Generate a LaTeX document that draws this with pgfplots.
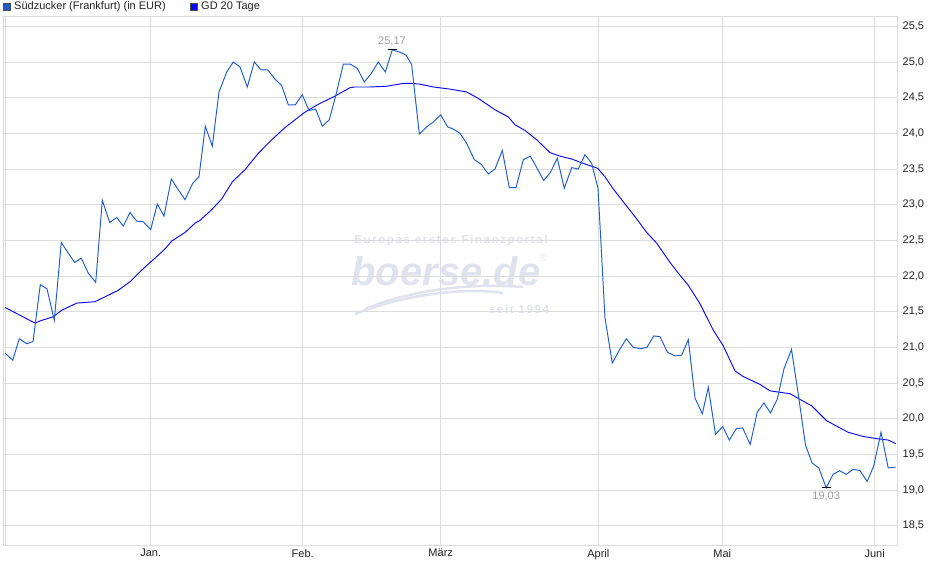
\documentclass[border=0pt]{standalone}
\usepackage{fontspec}
\setmainfont{Liberation Sans}
\newfontfamily\wmfont[LetterSpace=14]{Liberation Sans}
\usepackage{pgfplots}
\pgfplotsset{compat=1.18}
\definecolor{pricec}{HTML}{1E5CC8}
\definecolor{gdc}{HTML}{0A0AF0}
\definecolor{gridc}{HTML}{DCDCDC}
\definecolor{wm}{HTML}{E0E2EE}
\definecolor{txt}{HTML}{222222}
\definecolor{ann}{HTML}{A0A0A0}
\begin{document}
\begin{tikzpicture}[x=1pt,y=1pt]
\useasboundingbox (-3,-34) rectangle (937,545);
% watermark
\node[wm, font=\fontsize{11.5}{13}\selectfont\wmfont\bfseries] at (448,304) {Europas erstes Finanzportal};
\node[wm, font=\fontsize{40}{44}\selectfont\bfseries\itshape] at (443,274) {boerse.de};
\node[wm, font=\fontsize{10}{12}\selectfont] at (540,287) {®};
\node[wm, font=\fontsize{11.5}{13}\selectfont\wmfont\bfseries] at (516,236) {seit 1994};
\draw[wm, line width=2.5pt] (352,231) .. controls (400,250) and (460,258) .. (500,252);
\draw[wm, line width=2.5pt] (362,236) .. controls (410,256) and (470,262) .. (520,258);
% legend
\filldraw[fill=pricec, draw=black!70, line width=0.6pt] (0,534.5) rectangle (7.5,542);
\node[anchor=west, inner sep=0pt, txt, font=\fontsize{11}{13}\selectfont] at (11,538.3) {Südzucker (Frankfurt) (in EUR)};
\filldraw[fill=gdc, draw=black!70, line width=0.6pt] (187,534.5) rectangle (194.5,542);
\node[anchor=west, inner sep=0pt, txt, font=\fontsize{11}{13}\selectfont] at (198,538.3) {GD 20 Tage};
\begin{axis}[
  at={(0,0)}, anchor=south west,
  scale only axis, width=894pt, height=528pt,
  xmin=3, xmax=897, ymin=18.229, ymax=25.631,
  axis line style={draw=gridc, line width=1pt},
  grid=major, major grid style={draw=gridc, line width=1pt},
  xtick={5.7,150.7,302.7,440.7,598.3,722.3,874.7},
  xticklabels={,Jan.,Feb.,März,April,Mai,Juni},
  ytick={18.5,19,19.5,20,20.5,21,21.5,22,22.5,23,23.5,24,24.5,25,25.5},
  yticklabel pos=right,
  major tick length=0pt,
  tick style={draw=none},
  ticklabel style={font=\fontsize{11}{13}\selectfont, text=txt},
  /pgf/number format/assume math mode=true,
  y tick label style={/pgf/number format/.cd, use comma, fixed, fixed zerofill, precision=1, /tikz/.cd, anchor=west, inner sep=0pt, xshift=5.5pt},
  x tick label style={anchor=north, inner sep=0pt, yshift=-4pt},
  clip=false,
]
\addplot[gdc, line width=0.95pt] coordinates {
(5,21.56)(35,21.34)(40,21.37)(53.3,21.43)(61.7,21.52)(76.7,21.62)(95,21.64)(106.7,21.72)(118.3,21.80)(130,21.92)(140,22.06)(149.3,22.18)(155,22.25)(165,22.38)(171.7,22.49)(185,22.61)(195,22.74)(200,22.78)(211.7,22.93)(221.7,23.08)(232.3,23.32)(245,23.49)(258.3,23.72)(271.7,23.91)(285,24.08)(295,24.19)(304.3,24.29)(310,24.34)(320,24.42)(333.3,24.51)(350,24.64)(355,24.65)(370,24.65)(386.7,24.66)(403.3,24.70)(411.7,24.70)(420,24.69)(433.3,24.65)(450,24.62)(466.7,24.58)(478.3,24.49)(495,24.33)(508.3,24.23)(515,24.12)(525,24.04)(536.7,23.91)(550,23.73)(560,23.68)(571.7,23.64)(585,23.57)(597.7,23.51)(605,23.39)(613.3,23.22)(623.3,23.04)(636.7,22.80)(646.7,22.61)(656.7,22.46)(670,22.19)(680,22.01)(688.3,21.87)(700,21.61)(713.3,21.24)(723.3,21.02)(735,20.67)(743.3,20.59)(760,20.48)(770,20.39)(790,20.35)(800,20.27)(811.7,20.18)(826.7,19.97)(848,19.81)(863.3,19.75)(876.7,19.72)(888.3,19.70)(895.7,19.65)
};
\addplot[pricec, line width=0.95pt] coordinates {
(5,20.92)(12.7,20.82)(19.3,21.12)(26.7,21.05)(33,21.08)(40.3,21.88)(47,21.82)(54.3,21.38)(61.3,22.47)(68.3,22.32)(74.7,22.19)(81.3,22.25)(88.3,22.04)(95.7,21.91)(102.3,23.06)(109.7,22.75)(116.7,22.82)(123.3,22.70)(130,22.89)(136.7,22.77)(143.3,22.76)(150.7,22.65)(157.3,23.01)(164,22.84)(171.3,23.36)(178.3,23.21)(185,23.07)(192.7,23.30)(199,23.39)(205.3,24.10)(212.3,23.82)(219,24.58)(226.7,24.86)(233.3,25.00)(240,24.93)(247.3,24.65)(254.3,25.00)(261,24.89)(267.7,24.89)(275,24.76)(281.7,24.67)(288.3,24.40)(295.3,24.40)(302.3,24.54)(309,24.32)(315.7,24.34)(322.3,24.10)(329.3,24.19)(336.3,24.56)(343.3,24.97)(350.3,24.97)(357.3,24.91)(364.3,24.72)(371.3,24.84)(378.3,25.00)(385.3,24.86)(392.3,25.17)(399.3,25.14)(406,25.10)(411.7,24.96)(419.3,23.99)(426.7,24.09)(433.3,24.16)(440.7,24.26)(447.7,24.09)(453.3,24.06)(460,24.00)(466.7,23.86)(474.3,23.63)(481,23.57)(488.3,23.43)(495,23.50)(502.3,23.76)(509.3,23.24)(516,23.24)(523.3,23.63)(530.3,23.68)(536.7,23.52)(543.7,23.34)(550.3,23.45)(557.3,23.65)(564.3,23.23)(571.7,23.52)(578.3,23.50)(585,23.70)(591.7,23.58)(598,23.23)(605,21.41)(612.3,20.78)(619.3,20.96)(626.3,21.12)(633.3,21.00)(640.7,20.98)(647,21.00)(653.7,21.16)(660,21.15)(667.5,20.93)(675,20.88)(681.7,20.89)(688.3,21.11)(695,20.29)(702.3,20.07)(708.3,20.44)(715.5,19.78)(722.7,19.89)(729.3,19.70)(736.3,19.86)(742.7,19.87)(750.2,19.64)(757.2,20.09)(764,20.22)(770.5,20.08)(777.2,20.27)(784,20.70)(791.5,20.97)(798.7,20.30)(805.5,19.63)(812,19.38)(818.8,19.31)(826.2,19.03)(833,19.22)(839.7,19.27)(846.3,19.22)(853.3,19.29)(860,19.27)(867.2,19.12)(873.8,19.34)(881,19.81)(888.2,19.31)(895.5,19.32)
};
\addplot[black, line width=1pt, mark=-, mark size=4.5pt, only marks, mark options={line width=1pt}] coordinates {(392,25.17)(826.2,19.03)};
\node[ann, anchor=south, inner sep=0pt, font=\fontsize{11}{13}\selectfont] at (axis cs:392,25.17) [yshift=4pt] {25,17};
\node[ann, anchor=north, inner sep=0pt, font=\fontsize{11}{13}\selectfont] at (axis cs:826.2,19.03) [yshift=-4pt] {19,03};
\end{axis}
\end{tikzpicture}
\end{document}
